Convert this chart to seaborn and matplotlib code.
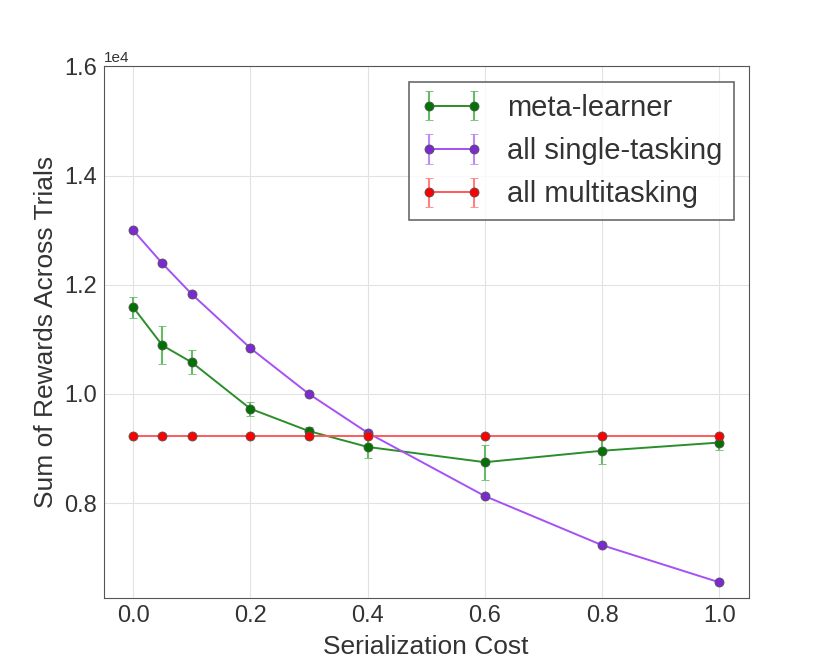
import numpy as np
import pandas as pd
import matplotlib
matplotlib.use("Agg")
import matplotlib.pyplot as plt
import seaborn as sns

# serialization cost values on the x axis
cost = [0.0, 0.05, 0.1, 0.2, 0.3, 0.4, 0.6, 0.8, 1.0]

# summed rewards for each policy, with error bar half-widths
meta_learner = [11590, 10890, 10580, 9730, 9320, 9030, 8750, 8960, 9110]
meta_err = [190, 350, 220, 130, 80, 195, 320, 240, 130]
single_tasking = [13000, 12390, 11830, 10840, 10000, 9290, 8130, 7230, 6550]
single_err = [0, 0, 0, 0, 0, 0, 0, 0, 0]
multitasking = [9230, 9230, 9230, 9230, 9230, 9230, 9230, 9230, 9230]
multi_err = [0, 0, 0, 0, 0, 0, 0, 0, 0]

sns.set_style("white", {"axes.grid": True, "grid.color": "#e2e2e2",
                        "axes.edgecolor": "#555555", "axes.linewidth": 1.5})
plt.rcParams['font.family'] = ['Liberation Sans', 'DejaVu Sans']

df = pd.DataFrame({"cost": cost, "meta": meta_learner, "single": single_tasking,
                   "multi": multitasking})

fig, ax = plt.subplots(figsize=(8.3, 6.64), dpi=100)
fig.subplots_adjust(left=0.125, right=0.902, top=0.9, bottom=0.1)

# (column, errors, label, line colour, marker colour, error bar colour)
series = [
    ("meta", meta_err, "meta-learner", "#2a8f2a", "#007300", "#66bb66"),
    ("single", single_err, "all single-tasking", "#a650f5", "#7a2ad0", "#c08af5"),
    ("multi", multi_err, "all multitasking", "#ff5a5a", "#ff0000", "#ff8080"),
]
for col, err, label, lcolor, mcolor, ecolor in series:
    ax.errorbar(df["cost"], df[col], yerr=err, fmt="-o", color=lcolor,
                markerfacecolor=mcolor, ecolor=ecolor, elinewidth=1.5,
                capsize=3, capthick=1.2, markersize=6.5,
                markeredgecolor="#555555", markeredgewidth=0.6,
                linewidth=1.4, label=label, zorder=3)

ax.set_xlim(-0.05, 1.05)
ax.set_ylim(6270, 16000)
ax.set_xticks([0.0, 0.2, 0.4, 0.6, 0.8, 1.0])
ax.set_yticks([8000, 10000, 12000, 14000, 16000])
ax.ticklabel_format(axis="y", style="sci", scilimits=(0, 0))
ax.yaxis.get_offset_text().set_fontsize(11)
ax.tick_params(labelsize=17, colors="#333333", length=0, pad=5)
ax.set_xlabel("Serialization Cost", fontsize=19, color="#333333", labelpad=6)
ax.set_ylabel("Sum of Rewards Across Trials", fontsize=19, color="#333333")

leg = ax.legend(loc="upper right", fontsize=21, numpoints=2, frameon=True,
                fancybox=False, edgecolor="#444444", borderpad=0.4,
                handlelength=2.12, handletextpad=0.84, labelspacing=0.52,
                borderaxespad=0, bbox_to_anchor=(0.977, 0.97))
leg.get_frame().set_linewidth(1.2)
for t in leg.get_texts():
    t.set_color("#333333")

plt.savefig("out.png", dpi=100)
